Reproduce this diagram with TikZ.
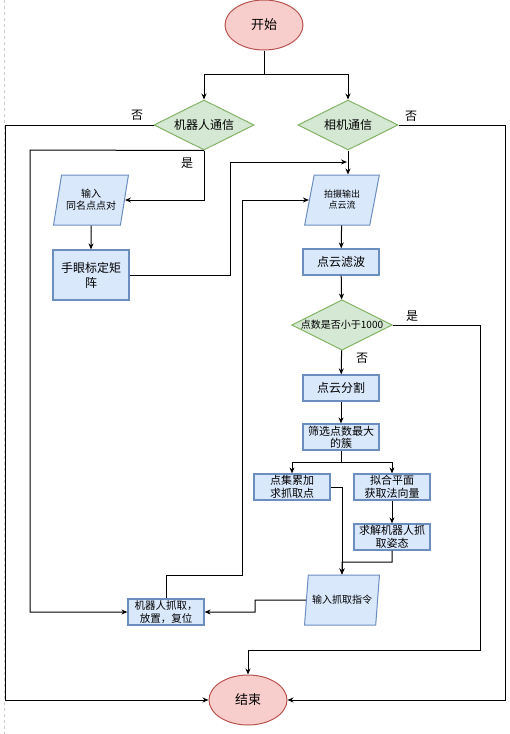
\documentclass[tikz,border=0pt]{standalone}
\usepackage{fontspec}
\setmainfont{Noto Sans CJK SC}
\usetikzlibrary{shapes.geometric,arrows.meta}
\definecolor{redfill}{HTML}{F8CECC}
\definecolor{redline}{HTML}{B85450}
\definecolor{greenfill}{HTML}{D5E8D4}
\definecolor{greenline}{HTML}{82B366}
\definecolor{bluefill}{HTML}{DAE8FC}
\definecolor{blueline}{HTML}{6C8EBF}
\newcommand{\fs}[2]{\fontsize{#1}{#2}\selectfont}
\begin{document}
\begin{tikzpicture}[x=1pt,y=-1pt,
	line/.style={draw=black,line width=1pt},
	arr/.style={line,-{Stealth[length=6pt,width=5pt]}},
	term/.style={ellipse,draw=redline,fill=redfill,line width=1pt,minimum width=78pt,minimum height=50pt,font=\fs{13}{15}},
	cond/.style={diamond,aspect=2,draw=greenline,fill=greenfill,line width=1pt,minimum width=100pt,minimum height=50pt,inner sep=0pt,font=\fs{12}{14}},
	proc/.style={rectangle,draw=blueline,fill=bluefill,line width=1.2pt,minimum width=76pt,minimum height=26pt,inner sep=1pt,align=center,font=\fs{12}{15}},
	io/.style={trapezium,trapezium left angle=73,trapezium right angle=107,trapezium stretches=true,draw=blueline,fill=bluefill,line width=1pt,minimum width=75pt,minimum height=50pt,inner sep=1pt,align=center},
	lbl/.style={font=\fs{12}{14}}]
	\useasboundingbox (0,0) rectangle (510,734);
	\draw [gray!40,dashed] (4,0)--(4,734);
	% nodes
	\node [term] (start) at (264,25) {开始};
	\node [cond] (robot) at (204,125) {机器人通信};
	\node [cond] (cam) at (348,125) {相机通信};
	\node [io,font=\fs{10}{12}] (pairs) at (91,200) {输入\\同名点点对};
	\node [proc,minimum height=50pt] (hand) at (91,275) {手眼标定矩\\阵};
	\node [io,font=\fs{9}{11}] (shoot) at (342,200) {拍摄输出\\点云流};
	\node [proc] (filt) at (341,262) {点云滤波};
	\node [cond,font=\fs{10}{12}] (check) at (342,325) {点数是否小于1000};
	\node [proc] (seg) at (341,388) {点云分割};
	\node [proc,font=\fs{11}{12}] (pick) at (341,437) {筛选点数最大\\的簇};
	\node [proc,font=\fs{11}{13}] (accum) at (292,487) {点集累加\\求抓取点};
	\node [proc,font=\fs{11}{13}] (plane) at (392,487) {拟合平面\\获取法向量};
	\node [proc,font=\fs{11}{13}] (pose) at (392,537) {求解机器人抓\\取姿态};
	\node [io,font=\fs{10}{12}] (cmd) at (342,600) {输入抓取指令};
	\node [proc,font=\fs{10.5}{12.5}] (grab) at (166,612) {机器人抓取，\\放置，复位};
	\node [term] (stop) at (248,700) {结束};
	% bends
	\coordinate (s1) at (264,74);
	\coordinate (lfar) at (5.5,700);
	\coordinate (rfar) at (505,700);
	\coordinate (lnear) at (30,150);
	\coordinate (j1) at (230,162);
	\coordinate (camin) at (347,162);
	\coordinate (j2) at (242,575);
	\coordinate (j3) at (480,650);
	\coordinate (s2) at (341,462);
	\coordinate (m1) at (342,562);
	\coordinate (j4) at (255,600);
	% connectors
	\draw [line] (start)--(s1);
	\draw [arr] (s1)-|(robot);
	\draw [arr] (s1)-|(cam);
	\draw [arr] (robot.west)-|(lfar)--(stop.west);
	\draw [arr] (cam.east)-|(rfar)--(stop.east);
	\draw [arr] (robot.south)|-(pairs.east);
	\draw [arr] (robot.south)--(lnear)|-(grab.west);
	\draw [arr] (pairs)--(hand);
	\draw [arr] (hand.east)-|(j1)--(camin);
	\draw [arr] (cam.south)--(cam.south|-shoot.north);
	\draw [arr] (grab.north)|-(j2)|-(shoot.west);
	\draw [arr] (shoot)--(filt);
	\draw [arr] (filt)--(check);
	\draw [arr] (check.east)-|(j3)-|(stop.north);
	\draw [arr] (check)--(seg);
	\draw [arr] (seg)--(pick);
	\draw [line] (pick)--(s2);
	\draw [arr] (s2)-|(accum);
	\draw [arr] (s2)-|(plane);
	\draw [arr] (plane)--(pose);
	\draw [arr] (pose.south)|-(m1)--(cmd.north);
	\draw [arr] (accum.east)-|(cmd.north);
	\draw [arr] (cmd.west)--(j4)|-(grab.east);
	% labels
	\node [lbl] (n1) at (137,115) {否};
	\node [lbl] (n2) at (411,116) {否};
	\node [lbl] (y1) at (187,163) {是};
	\node [lbl] (y2) at (412,316) {是};
	\node [lbl] (n3) at (362,358) {否};
\end{tikzpicture}
\end{document}
